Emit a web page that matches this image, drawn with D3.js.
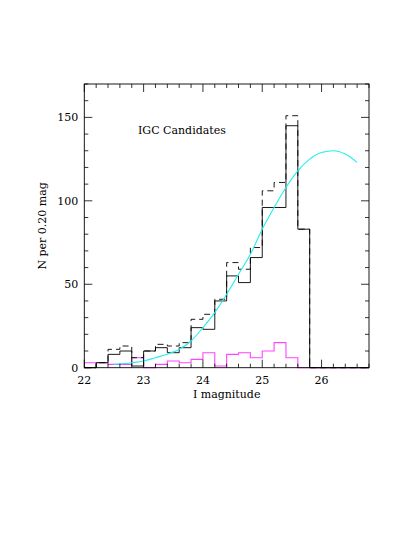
<!DOCTYPE html>
<html><head><meta charset="utf-8">
<script src="https://cdn.jsdelivr.net/npm/d3@7"></script>
<style>body{margin:0;background:#fff}text{font-family:"DejaVu Serif",serif;font-size:11px;fill:#000}</style>
</head><body><svg id="c" width="415" height="537"></svg>
<script>
// bin left edges (width 0.2 mag)
const binStarts = [22.0,22.2,22.4,22.6,22.8,23.0,23.2,23.4,23.6,23.8,24.0,24.2,24.4,24.6,24.8,25.0,25.2,25.4,25.6,25.8,26.0,26.2,26.4,26.6];
const solidCounts = [0,3,8,10,1,10,12,9,12,24,23,40,55,51,66,96,96,145,83,0,0,0,0,0];
const dashedCounts = [0,3,11,13,6,10,14,13,15,29,32,41,63,59,72,106,111,151,83,0,0,0,0,0];
const magentaCounts = [3,3,2,2,6,0,2,4,3,5,9,1,8,9,6,10,15,6,0,0,0,0,0,0];
const fitMag = [22.5,22.8,23.0,23.2,23.4,23.6,23.8,24.0,24.2,24.4,24.6,24.8,25.0,25.2,25.4,25.6,25.8,26.0,26.2,26.4,26.6];
const fitN = [2,3,4,6,8,11,16,24,33,44,56,68,83,96,108,118,125,129,130,128,123];
const xTicks = [22,23,24,25,26];
const yTicks = [0,50,100,150];

const L=84.3,R=369,T=84,B=367.7,binW=0.2;
const svg=d3.select('#c');
const x=d3.scaleLinear().domain([22,26.8]).range([L,R]);
const y=d3.scaleLinear().domain([0,170]).range([B,T]);

function stepLine(counts){
  const pts=[];
  binStarts.forEach((s,i)=>{pts.push([s,counts[i]]);pts.push([s+binW,counts[i]]);});
  return d3.line().x(d=>x(d[0])).y(d=>y(d[1]))(pts);
}
const g=svg.append('g');
g.append('path').attr('d',stepLine(magentaCounts)).attr('fill','none').attr('stroke','#ff44ff').attr('stroke-width',1.1);
g.append('path').attr('d',stepLine(dashedCounts)).attr('fill','none').attr('stroke','#000').attr('stroke-width',0.9).attr('stroke-dasharray','6,4');
g.append('path').attr('d',stepLine(solidCounts)).attr('fill','none').attr('stroke','#000').attr('stroke-width',0.9);
// fitted curve
g.append('path').attr('d',d3.line().curve(d3.curveMonotoneX).x(d=>x(d[0])).y(d=>y(d[1]))(fitMag.map((m,i)=>[m,fitN[i]])))
 .attr('fill','none').attr('stroke','#22eeee').attr('stroke-width',1.1);

// frame
svg.append('rect').attr('x',L).attr('y',T).attr('width',R-L).attr('height',B-T).attr('fill','none').attr('stroke','#000').attr('stroke-width',0.9);
// ticks on all sides
const ax=svg.append('g').attr('stroke','#000').attr('stroke-width',0.8);
d3.range(22,26.81,0.2).forEach(v=>{
  const maj=Math.abs(v-Math.round(v))<1e-6, len=maj?8:4;
  ax.append('line').attr('x1',x(v)).attr('x2',x(v)).attr('y1',B).attr('y2',B-len);
  ax.append('line').attr('x1',x(v)).attr('x2',x(v)).attr('y1',T).attr('y2',T+len);
});
d3.range(0,171,10).forEach(v=>{
  const maj=v%50===0, len=maj?8:4;
  ax.append('line').attr('y1',y(v)).attr('y2',y(v)).attr('x1',L).attr('x2',L+len);
  ax.append('line').attr('y1',y(v)).attr('y2',y(v)).attr('x1',R).attr('x2',R-len);
});
svg.selectAll('.xl').data(xTicks).join('text').attr('x',d=>x(d)).attr('y',B+16).attr('text-anchor','middle').text(d=>d);
svg.selectAll('.yl').data(yTicks).join('text').attr('x',L-6).attr('y',d=>y(d)+4).attr('text-anchor','end').text(d=>d);
svg.append('text').attr('x',(L+R)/2).attr('y',398).attr('text-anchor','middle').text('I magnitude');
svg.append('text').attr('transform',`translate(46,${(T+B)/2}) rotate(-90)`).attr('text-anchor','middle').text('N per 0.20 mag');
svg.append('text').attr('x',138).attr('y',134).text('IGC Candidates');
</script></body></html>
